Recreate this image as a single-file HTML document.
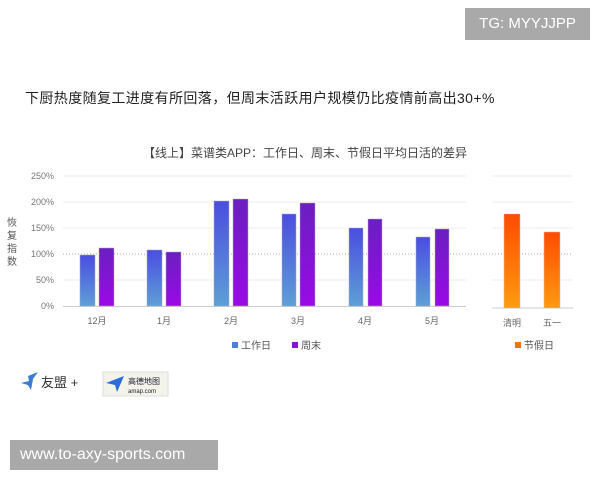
<!DOCTYPE html><html><head><meta charset="utf-8"><style>
body{margin:0;width:600px;height:480px;background:#fff;position:relative;overflow:hidden;font-family:"Liberation Sans","Noto Sans CJK SC",sans-serif}
.a{position:absolute;white-space:nowrap}
</style></head><body>
<div class="a" style="left:465px;top:8px;width:125px;height:32px;background:#a9a9a9;color:#fff;font-size:15px;line-height:32px;text-align:center">TG: MYYJJPP</div>
<div class="a" style="left:25px;top:88px;font-size:14px;color:#222;letter-spacing:0.4px">下厨热度随复工进度有所回落，但周末活跃用户规模仍比疫情前高出30+%</div>
<div class="a" style="left:143px;top:144px;font-size:12px;color:#444">【线上】菜谱类APP：工作日、周末、节假日平均日活的差异</div>
<svg class="a" style="left:0;top:0" width="600" height="480" font-family="Liberation Sans,Noto Sans CJK SC,sans-serif">
<defs>
<linearGradient id="b" x1="0" y1="0" x2="0" y2="1"><stop offset="0" stop-color="#4a4de0"/><stop offset="1" stop-color="#5e9fd6"/></linearGradient>
<linearGradient id="p" x1="0" y1="0" x2="0" y2="1"><stop offset="0" stop-color="#6a1fc0"/><stop offset="1" stop-color="#9a0ae6"/></linearGradient>
<linearGradient id="o" x1="0" y1="0" x2="0" y2="1"><stop offset="0" stop-color="#ff4a00"/><stop offset="1" stop-color="#ff9a10"/></linearGradient>
</defs>
<g stroke="#eee"><line x1="63" x2="466" y1="176" y2="176"/><line x1="63" x2="466" y1="202" y2="202"/><line x1="63" x2="466" y1="228" y2="228"/><line x1="63" x2="466" y1="280" y2="280"/>
<line x1="492" x2="573" y1="176" y2="176"/><line x1="492" x2="573" y1="202" y2="202"/><line x1="492" x2="573" y1="228" y2="228"/><line x1="492" x2="573" y1="280" y2="280"/></g>
<line x1="63" x2="573" y1="254" y2="254" stroke="#aaa" stroke-dasharray="1,2"/>
<line x1="63" x2="466" y1="306.5" y2="306.5" stroke="#ccc"/>
<line x1="492" x2="573" y1="308" y2="308" stroke="#ccc"/>
<g font-size="9" fill="#777" text-anchor="end"><text x="54" y="179">250%</text><text x="54" y="205">200%</text><text x="54" y="231">150%</text><text x="54" y="257">100%</text><text x="54" y="283">50%</text><text x="54" y="309">0%</text></g>
<g font-size="10" fill="#555"><text x="7" y="226">恢</text><text x="7" y="239">复</text><text x="7" y="252">指</text><text x="7" y="265">数</text></g>
<g fill="url(#b)" stroke="#aab" stroke-width=".5"><rect x="80" y="255" width="15" height="51"/><rect x="147" y="250" width="15" height="56"/><rect x="214" y="201" width="15" height="105"/><rect x="282" y="214" width="14" height="92"/><rect x="349" y="228" width="14" height="78"/><rect x="416" y="237" width="14" height="69"/></g>
<g fill="url(#p)" stroke="#aab" stroke-width=".5"><rect x="99" y="248" width="15" height="58"/><rect x="166" y="252" width="15" height="54"/><rect x="233" y="199" width="15" height="107"/><rect x="300" y="203" width="15" height="103"/><rect x="368" y="219" width="14" height="87"/><rect x="435" y="229" width="14" height="77"/></g>
<g fill="url(#o)" stroke="#dba" stroke-width=".5"><rect x="504" y="214" width="16" height="94"/><rect x="544" y="232" width="16" height="76"/></g>
<g font-size="9" fill="#666" text-anchor="middle"><text x="97" y="324">12月</text><text x="164" y="324">1月</text><text x="231" y="324">2月</text><text x="298" y="324">3月</text><text x="365" y="324">4月</text><text x="432" y="324">5月</text><text x="512" y="326">清明</text><text x="552" y="326">五一</text></g>
<rect x="232" y="342" width="6" height="6" fill="#4d7fd6"/><text x="241" y="349" font-size="10" fill="#555">工作日</text>
<rect x="292" y="342" width="6" height="6" fill="#8a12d8"/><text x="301" y="349" font-size="10" fill="#555">周末</text>
<rect x="515" y="342" width="6" height="6" fill="#ff7010"/><text x="524" y="349" font-size="10" fill="#555">节假日</text>
<path d="M28 376 L38 372 L33 379 L31 390 L28 385 L21 383 L29 381 Z" fill="#3a7bd5"/>
<text x="41" y="387" font-size="13" fill="#333">友盟 +</text>
<rect x="103" y="372" width="65" height="24" fill="#f3f3ea" stroke="#ddd"/>
<path d="M106 383 L124 376 L117 392 L115 385 Z" fill="#2b6cd8"/>
<text x="128" y="384" font-size="8" fill="#223">高德地图</text><text x="128" y="393" font-size="6" fill="#223">amap.com</text>
</svg>
<div class="a" style="left:10px;top:440px;width:208px;height:30px;background:#a9a9a9;color:#fff;font-size:16px;line-height:30px;padding-left:10px;box-sizing:border-box">www.to-axy-sports.com</div>
</body></html>
